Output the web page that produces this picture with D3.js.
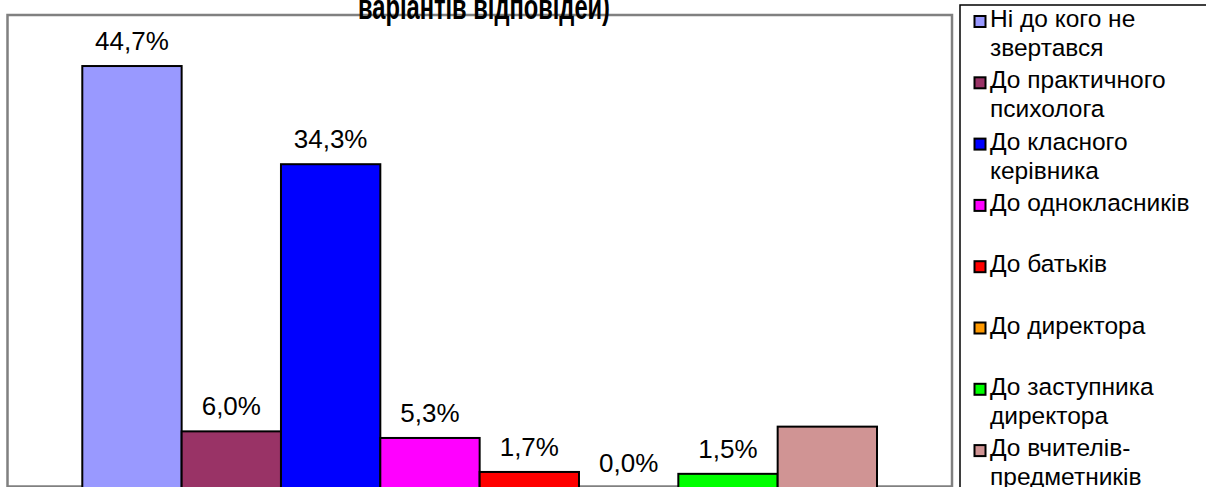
<!DOCTYPE html>
<html>
<head>
<meta charset="utf-8">
<script src="https://cdn.jsdelivr.net/npm/d3@7"></script>
<style>
  body { margin: 0; background: #fff; overflow: hidden; }
  svg { display: block; font-family: Arial, "Liberation Sans", sans-serif; }
</style>
</head>
<body>
<svg id="chart" width="1206" height="487"></svg>
<script>
// data
var categories = ["Ні до кого не звертався", "До практичного психолога", "До класного керівника",
    "До однокласників", "До батьків", "До директора", "До заступника директора", "До вчителів-предметників"];
var legendLines = [["Ні до кого не", "звертався"], ["До практичного", "психолога"], ["До класного", "керівника"],
    ["До однокласників"], ["До батьків"], ["До директора"], ["До заступника", "директора"], ["До вчителів-", "предметників"]];
var values = [44.7, 6.0, 34.3, 5.3, 1.7, 0.0, 1.5, 6.5];
var showLabel = [true, true, true, true, true, true, true, false];
var colors = ["#9999ff", "#993366", "#0000ff", "#ff00ff", "#ff0000", "#ff9900", "#00ff00", "#d09494"];
var titleText = "варіантів відповідей)";

var svg = d3.select("#chart");

var plot = { left: 7.5, top: 15, right: 952, bottom: 486.5 };

var x = d3.scaleBand()
    .domain(categories)
    .range([82.3, 877]);

var y = d3.scaleLinear()
    .domain([0, 50])
    .range([488, 16]);

// plot area frame
svg.append("rect")
    .attr("x", plot.left)
    .attr("y", plot.top)
    .attr("width", plot.right - plot.left)
    .attr("height", plot.bottom - plot.top)
    .attr("fill", "#fff")
    .attr("stroke", "#808080")
    .attr("stroke-width", 2.5);

svg.append("g")
    .attr("class", "bars")
    .selectAll("rect")
    .data(values)
    .enter().append("rect")
    .attr("x", function(d, i) { return x(categories[i]); })
    .attr("y", function(d) { return y(d); })
    .attr("width", x.bandwidth())
    .attr("height", function(d) { return y(0) - y(d); })
    .attr("fill", function(d, i) { return colors[i]; })
    .attr("stroke", function(d) { return d > 0 ? "#000" : "none"; })
    .attr("stroke-width", 2);

svg.append("g")
    .attr("class", "labels")
    .selectAll("text")
    .data(values)
    .enter().append("text")
    .filter(function(d, i) { return showLabel[i]; })
    .attr("x", function(d, i) { return x(categories[i]) + x.bandwidth() / 2; })
    .attr("y", function(d) { return y(d) - 16; })
    .attr("text-anchor", "middle")
    .attr("font-size", 26)
    .attr("fill", "#000")
    .text(function(d) { return d.toFixed(1).replace(".", ",") + "%"; });

// title (only its last line falls inside the picture); glyphs are squeezed like the original
svg.append("text")
    .attr("x", 358)
    .attr("y", 18.5)
    .attr("font-size", 35)
    .attr("font-weight", "bold")
    .attr("textLength", 252)
    .attr("lengthAdjust", "spacingAndGlyphs")
    .text(titleText);

// legend
var legend = svg.append("g").attr("class", "legend");
legend.append("rect")
    .attr("x", 960)
    .attr("y", 5)
    .attr("width", 260)
    .attr("height", 500)
    .attr("fill", "#fff")
    .attr("stroke", "#000")
    .attr("stroke-width", 1.5);

var item = legend.selectAll("g.item")
    .data(legendLines)
    .enter().append("g")
    .attr("class", "item")
    .attr("transform", function(d, i) { return "translate(0," + (27 + 61.3 * i) + ")"; });

item.append("rect")
    .attr("x", 974.5)
    .attr("y", -11)
    .attr("width", 11)
    .attr("height", 11)
    .attr("fill", function(d, i) { return colors[i]; })
    .attr("stroke", "#000")
    .attr("stroke-width", 2);

item.append("text")
    .attr("font-size", 24.5)
    .attr("fill", "#000")
    .selectAll("tspan")
    .data(function(d) { return d; })
    .enter().append("tspan")
    .attr("x", 990)
    .attr("y", function(d, j) { return j * 29; })
    .text(function(d) { return d; });
</script>
</body>
</html>
